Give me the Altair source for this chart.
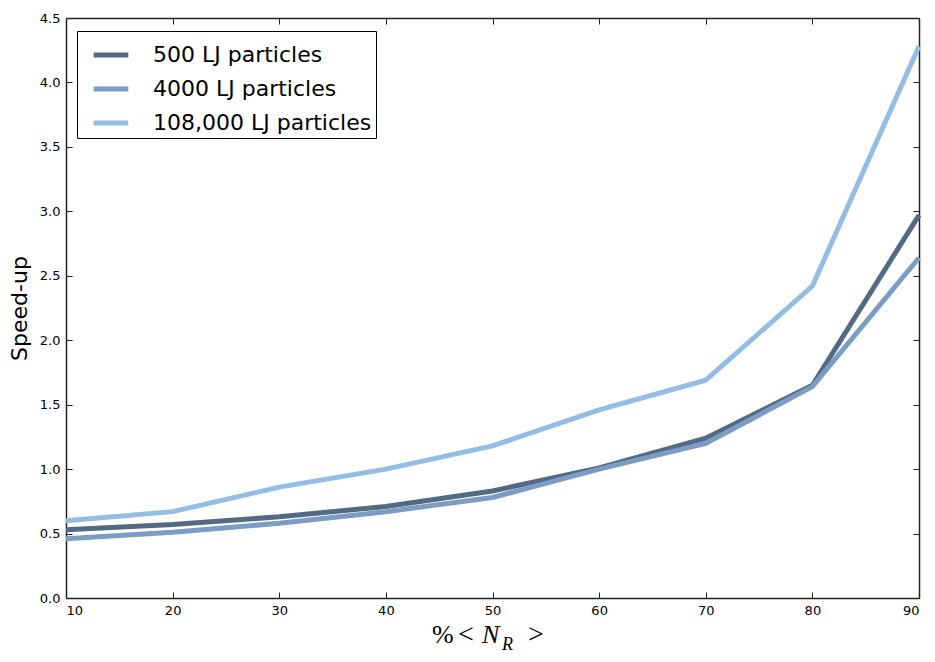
import altair as alt
import pandas as pd

pct = [10, 20, 30, 40, 50, 60, 70, 80, 90]
s500 = [0.53, 0.57, 0.63, 0.71, 0.83, 1.01, 1.24, 1.65, 2.97]
s4000 = [0.46, 0.51, 0.58, 0.67, 0.78, 1.00, 1.20, 1.64, 2.64]
s108k = [0.60, 0.67, 0.86, 1.00, 1.18, 1.46, 1.69, 2.42, 4.28]
series = ["500 LJ particles", "4000 LJ particles", "108,000 LJ particles"]
colors = ["#526a83", "#7b9cc4", "#93bde4"]
x_ticks = [10, 20, 30, 40, 50, 60, 70, 80, 90]
y_ticks = [0.0, 0.5, 1.0, 1.5, 2.0, 2.5, 3.0, 3.5, 4.0, 4.5]
y_title = "Speed-up"
x_title_parts = ["%", "<", "N", "R", ">"]

rows = []
for name, vals in zip(series, [s500, s4000, s108k]):
    for p, v in zip(pct, vals):
        rows.append({"pct": p, "speed": v, "series": name, "k": series.index(name)})
df = pd.DataFrame(rows)

W, H = 853, 580
xs = alt.Scale(domain=[10, 90], nice=False, zero=False)
ys = alt.Scale(domain=[0, 4.5], nice=False, zero=False)
FRAME = "#222222"

base = alt.Chart(df)

lines = base.mark_line(strokeWidth=5).encode(
    x=alt.X("pct:Q", scale=xs,
            axis=alt.Axis(orient="bottom", values=x_ticks, ticks=False, grid=False,
                          domain=True, domainColor=FRAME, domainWidth=1.5,
                          labelFontSize=13, labelColor="black",
                          labelPadding=6, title=None, labelFont="DejaVu Sans")),
    y=alt.Y("speed:Q", scale=ys,
            axis=alt.Axis(orient="left", values=y_ticks, format=".1f", ticks=False,
                          grid=False, domain=True, domainColor=FRAME, domainWidth=1.5,
                          labelFontSize=13, labelColor="black",
                          labelPadding=6, labelFont="DejaVu Sans",
                          title=y_title, titleFontSize=22, titleFontWeight="normal",
                          titleFont="DejaVu Sans", titleColor="black", titlePadding=8)),
    color=alt.Color("series:N", sort=series,
                    scale=alt.Scale(domain=series, range=colors),
                    legend=alt.Legend(title=None, orient="none", legendX=11, legendY=13,
                                      symbolType="stroke", symbolStrokeWidth=5,
                                      symbolSize=1200, labelFontSize=22,
                                      labelFont="DejaVu Sans", labelColor="black",
                                      labelLimit=500,
                                      padding=4, strokeColor="black", fillColor="white",
                                      symbolOffset=10, labelOffset=22, rowPadding=3,
                                      cornerRadius=0, symbolOpacity=1)),
    order=alt.Order("k:Q", sort="descending"),
)


def tick_layer(xorient, yorient, show_domain):
    return base.mark_line(opacity=0).encode(
        x=alt.X("pct:Q", scale=xs,
                axis=alt.Axis(orient=xorient, offset=-H, values=x_ticks, labels=False,
                              ticks=True, tickSize=6, tickColor=FRAME, tickWidth=1,
                              domain=show_domain, domainColor=FRAME, domainWidth=1.5,
                              grid=False, title=None)),
        y=alt.Y("speed:Q", scale=ys,
                axis=alt.Axis(orient=yorient, offset=-W, values=y_ticks, labels=False,
                              ticks=True, tickSize=6, tickColor=FRAME, tickWidth=1,
                              domain=show_domain, domainColor=FRAME, domainWidth=1.5,
                              grid=False, title=None)),
        detail="series:N",
    )


t1 = tick_layer("top", "right", False)
t2 = tick_layer("bottom", "left", True)

math_font = "Liberation Serif"


def piece(i, xpos, ypos, size, italic):
    kw = dict(font=math_font, fontSize=size, align="left", baseline="alphabetic",
              color="black")
    if italic:
        kw["fontStyle"] = "italic"
    d = pd.DataFrame({"t": [x_title_parts[i]]})
    return alt.Chart(d).mark_text(**kw).encode(
        text="t:N", x=alt.value(xpos), y=alt.value(ypos))


title_layers = [
    piece(0, 366, H + 45, 26, False),
    piece(1, 392, H + 45, 28, False),
    piece(2, 416, H + 45, 26, True),
    piece(3, 436, H + 52, 18, True),
    piece(4, 462, H + 45, 28, False),
]

chart = alt.layer(lines, t1, t2, *title_layers).resolve_axis(
    x="independent", y="independent"
).properties(
    width=W, height=H,
    autosize=alt.AutoSizeParams(type="none"),
    padding={"left": 58, "top": 10, "right": 8, "bottom": 56},
).configure_view(stroke=None).configure(background="white")

chart.save("out.html", embed_options={"renderer": "svg", "actions": False})
